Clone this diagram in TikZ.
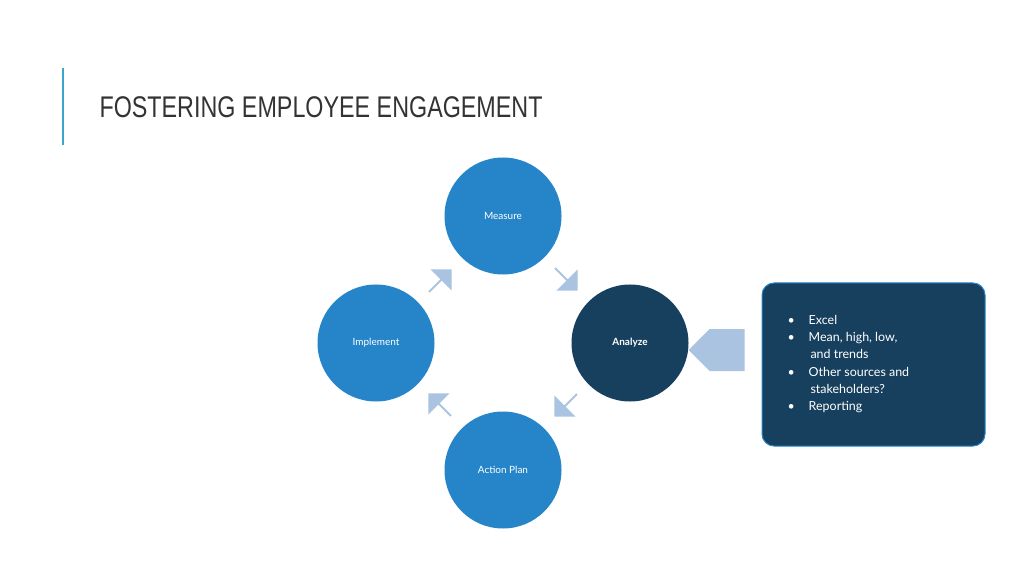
\documentclass[tikz,border=0pt]{standalone}
\usepackage{fontspec}
\setmainfont{Lato}
\newfontfamily\titlefont[FakeStretch=0.78]{Liberation Sans}
\usetikzlibrary{shapes.arrows}
\definecolor{stepblue}{HTML}{2685C8}
\definecolor{stepdark}{HTML}{17405F}
\definecolor{arrowblue}{HTML}{A9C3E0}
\definecolor{rulecyan}{HTML}{3AA6C9}
\tikzset{
  stepnode/.style={circle,fill=stepblue,minimum size=117bp,inner sep=0pt,text=white,font=\fontsize{10}{12}\selectfont},
  flowarrow/.style={single arrow,fill=arrowblue,minimum height=32bp,minimum width=30bp,single arrow head extend=4bp,inner sep=0pt,shape border uses incircle},
}
\begin{document}
\begin{tikzpicture}[x=1bp,y=-1bp]
\useasboundingbox (0,0) rectangle (1024,576);
\draw[rulecyan,line width=1.5bp] (63,68) -- (63,145);
\node (title) at (96,107) [anchor=west,font=\titlefont\fontsize{30}{34}\selectfont,text=black!80] {FOSTERING EMPLOYEE ENGAGEMENT};
%
\node (measure) at (503,216) [stepnode] {Measure};
\node (analyze) at (630,343) [stepnode,fill=stepdark,font=\fontsize{10}{12}\selectfont\bfseries] {Analyze};
\node (implement) at (376,343) [stepnode] {Implement};
\node (actionplan) at (503,470) [stepnode] {Action Plan};
%
\node (arr_ma) at (566,279) [flowarrow,shape border rotate=-45] {};
\node (arr_aa) at (566,405) [flowarrow,shape border rotate=-135] {};
\node (arr_ai) at (440,405) [flowarrow,shape border rotate=135] {};
\node (arr_im) at (440,281) [flowarrow,shape border rotate=45] {};
\node (arr_box) at (727,350) [single arrow,fill=arrowblue,shape border rotate=180,minimum height=56bp,minimum width=42bp,single arrow head extend=0bp,inner sep=0pt] {};
%
\node (notes) at (873.5,364.5) [draw=stepblue,line width=1bp,fill=stepdark,rounded corners=12bp,minimum width=223bp,minimum height=163bp,text=white] {};
\node (notetext) at (784,364) [anchor=west,text=white,font=\fontsize{12.5}{17.2}\selectfont,align=left] {%
\textbullet\hspace{14bp}Excel\\
\textbullet\hspace{14bp}Mean, high, low,\\
\hspace*{23bp}and trends\\
\textbullet\hspace{14bp}Other sources and\\
\hspace*{23bp}stakeholders?\\
\textbullet\hspace{14bp}Reporting};
\end{tikzpicture}
\end{document}
